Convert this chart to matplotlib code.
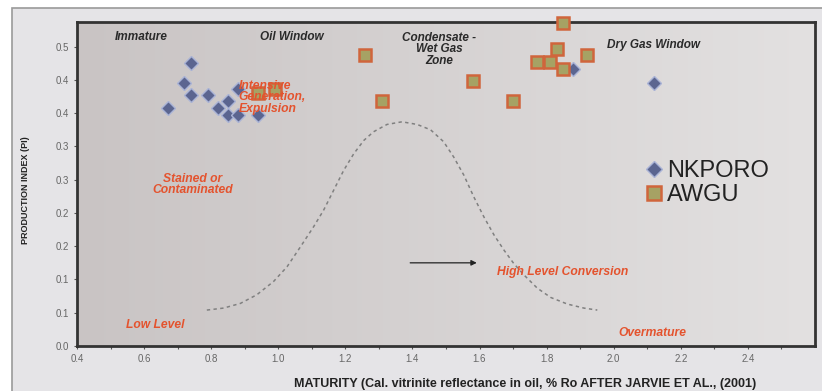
import numpy as np
import matplotlib
matplotlib.use("Agg")
import matplotlib.pyplot as plt
from matplotlib.patches import Rectangle

plt.rcParams['font.family'] = ['Liberation Sans', 'DejaVu Sans']

# maturity (%Ro) vs production index
nkporo_x = [0.74, 0.72, 0.74, 0.79, 0.67, 0.82, 0.85, 0.85, 0.88, 0.94, 0.88, 1.88, 2.12]
nkporo_y = [0.426, 0.396, 0.377, 0.377, 0.357, 0.357, 0.368, 0.347, 0.347, 0.347, 0.387, 0.417, 0.396]

awgu_x = [0.94, 0.99, 1.26, 1.31, 1.58, 1.70, 1.85, 1.83, 1.92, 1.77, 1.81, 1.85]
awgu_y = [0.380, 0.387, 0.437, 0.369, 0.398, 0.368, 0.486, 0.447, 0.437, 0.427, 0.427, 0.417]

# dashed conversion curve (Jarvie et al.)
curve_x = [0.787, 0.837, 0.887, 0.936, 0.986, 1.026, 1.066, 1.105, 1.135, 1.165, 1.195,
           1.225, 1.255, 1.284, 1.324, 1.369, 1.414, 1.454, 1.493, 1.523, 1.553, 1.583,
           1.613, 1.643, 1.673, 1.702, 1.732, 1.772, 1.812, 1.862, 1.911, 1.951]
curve_y = [0.054, 0.057, 0.064, 0.077, 0.097, 0.119, 0.149, 0.179, 0.204, 0.234, 0.264,
           0.289, 0.309, 0.322, 0.333, 0.337, 0.333, 0.325, 0.307, 0.284, 0.257, 0.224,
           0.194, 0.167, 0.144, 0.124, 0.107, 0.087, 0.073, 0.063, 0.057, 0.054]

y_ticks = [0.0, 0.05, 0.10, 0.15, 0.20, 0.25, 0.30, 0.35, 0.40, 0.45]
y_tick_labels = ["0.0", "0.1", "0.1", "0.2", "0.2", "0.3", "0.3", "0.4", "0.4", "0.5"]
x_ticks = [0.4, 0.6, 0.8, 1.0, 1.2, 1.4, 1.6, 1.8, 2.0, 2.2, 2.4]

zone_labels = ["Immature", "Oil Window", "Condensate -\nWet Gas\nZone", "Dry Gas Window"]
zone_x = [0.59, 1.04, 1.48, 2.12]
zone_y = [0.464, 0.464, 0.446, 0.453]

note_labels = ["Intensive\nGeneration,\nExpulsion", "Stained or\nContaminated",
               "Low Level", "High Level Conversion", "Overmature"]
note_x = [0.881, 0.746, 0.633, 1.848, 2.116]
note_y = [0.374, 0.243, 0.032, 0.111, 0.020]
note_ha = ['left', 'center', 'center', 'center', 'center']

red = '#e4532e'

fig = plt.figure(figsize=(8.22, 3.91), dpi=100)
fig.patch.set_facecolor('white')
# outer grey panel with a thin frame on top/left
fig.patches.append(Rectangle((12 / 822, -0.01), 1, 1 - 8 / 391 + 0.01, transform=fig.transFigure,
                             facecolor='#e5e4e7', edgecolor='#9a9a9a', linewidth=1.2,
                             zorder=-10))

ax = fig.add_axes([77 / 822, 45 / 391, 738 / 822, 324 / 391])
ax.set_facecolor('none')

# horizontal gradient inside the plot area
grad = np.linspace(0, 1, 256).reshape(1, -1)
cmap = matplotlib.colors.LinearSegmentedColormap.from_list('bg', ['#c9c4c4', '#e3e1e1'])
ax.imshow(grad, extent=[0, 1, 0, 1], transform=ax.transAxes, cmap=cmap,
          aspect='auto', zorder=0)

ax.plot(curve_x, curve_y, linestyle=(0, (2.2, 2.2)), color='#808080', linewidth=1.1, zorder=2)
ax.annotate('', xy=(1.60, 0.125), xytext=(1.385, 0.125),
            arrowprops=dict(arrowstyle='-|>', color='#222222', lw=0.9, mutation_scale=8),
            zorder=3)

ax.plot(nkporo_x, nkporo_y, linestyle='none', marker='D', markersize=7.5,
        markerfacecolor='#5b6590', markeredgecolor='#a9b3d6', markeredgewidth=1.0,
        label='NKPORO', zorder=4, clip_on=False)
ax.plot(awgu_x, awgu_y, linestyle='none', marker='s', markersize=8.3,
        markerfacecolor='#a6a264', markeredgecolor='#d0653c', markeredgewidth=1.8,
        label='AWGU', zorder=4, clip_on=False)

for txt, x, y in zip(zone_labels, zone_x, zone_y):
    ax.text(x, y, txt, ha='center', va='center', fontsize=8.5, fontweight='bold',
            fontstyle='italic', color='#2a2a2a', linespacing=0.95, zorder=5)

for txt, x, y, ha in zip(note_labels, note_x, note_y, note_ha):
    ax.text(x, y, txt, ha=ha, va='center', fontsize=8.7, fontweight='bold',
            fontstyle='italic', color=red, linespacing=0.95, zorder=5)

ax.set_xlim(0.4, 2.6)
ax.set_ylim(0, 0.487)
ax.set_xticks(x_ticks)
ax.set_xticks(np.arange(0.5, 2.6, 0.2), minor=True)
ax.set_yticks(y_ticks)
ax.set_yticklabels(y_tick_labels)
ax.tick_params(axis='both', which='both', direction='out', length=2.5, width=0.8,
               color='#555555', labelsize=7, labelcolor='#666666')
for side in ax.spines.values():
    side.set_linewidth(2.0)
    side.set_color('#333333')

ax.set_xlabel('MATURITY (Cal. vitrinite reflectance in oil, % Ro AFTER JARVIE ET AL., (2001)',
              fontsize=9, fontweight='bold', color='#222222')
ax.xaxis.set_label_coords(0.607, -0.099)
ax.set_ylabel('PRODUCTION INDEX (PI)', fontsize=6.5, fontweight='bold', color='#222222')
ax.yaxis.set_label_coords(-0.064, 0.48)

leg = ax.legend(loc='upper left', bbox_to_anchor=(0.747, 0.625), frameon=False,
                fontsize=17, handletextpad=0.15, handlelength=0.8, borderpad=0.2,
                labelspacing=0.1, markerscale=1.15)
for t in leg.get_texts():
    t.set_color('#222222')

fig.savefig('out.png', dpi=100)
